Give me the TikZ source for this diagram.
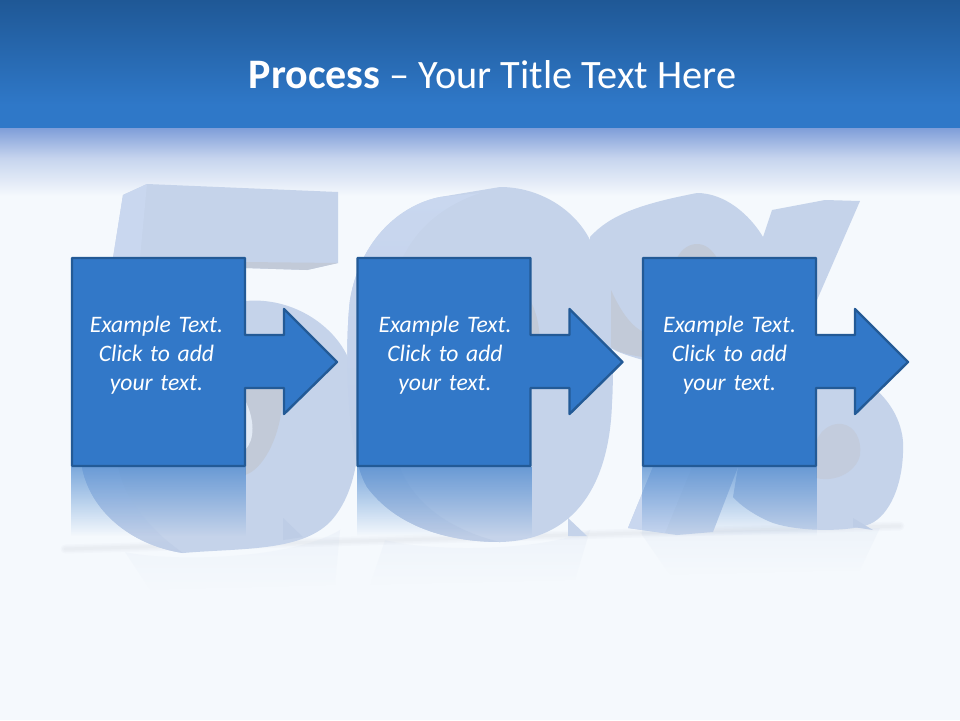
\documentclass[tikz,border=0pt]{standalone}
\usepackage{fontspec}
\setmainfont[WordSpace=1.45]{Carlito}
\newfontfamily\titlefont{Carlito}
\usetikzlibrary{fadings}
\definecolor{pagepale}{HTML}{F5F9FD}
\definecolor{bannertop}{HTML}{1F5896}
\definecolor{bannerlow}{HTML}{2F78C8}
\definecolor{bandtop}{HTML}{7F9ED9}
\definecolor{bandmid}{HTML}{C6D4EE}
\definecolor{boxblue}{HTML}{3278C8}
\definecolor{boxedge}{HTML}{235A96}
\definecolor{digitfront}{HTML}{C5D3EA}
\definecolor{digitside}{HTML}{C9D7EF}
\definecolor{digitlow}{HTML}{BECDE6}
\definecolor{digitgrey}{HTML}{C2CAD8}
\tikzset{
	digit/.style={fill=digitfront, draw=none},
	digitlight/.style={top color=digitside, bottom color=digitlow, draw=none},
	digitdark/.style={fill=digitgrey, draw=none},
	digitnotch/.style={fill=digitlow, draw=none},
	mirror/.style={fill=digitfront, fill opacity=0.14, path fading=south, draw=none},
	callout/.style={fill=boxblue, draw=boxedge, line width=2.4pt, line join=round},
	calltext/.style={text=white, align=center, font=\fontsize{23.6}{29.2}\selectfont\itshape, inner sep=0pt},
}
\begin{document}
\begin{tikzpicture}[x=1pt,y=-1pt]
	\useasboundingbox (0,0) rectangle (960,720);
	\fill[pagepale] (0,0) rectangle (960,720);

	\shade[top color=bannertop, bottom color=bannerlow] (0,0) rectangle (960,105);
	\fill[bannerlow] (0,105) rectangle (960,128);
	\shade[top color=bandtop, bottom color=bandmid] (0,128) rectangle (960,158);
	\shade[top color=bandmid, bottom color=pagepale] (0,158) rectangle (960,196);

	% ground
	\foreach \s/\o in {9/0.04,6/0.05,3/0.05} {
		\draw[line width=\s pt, line cap=round, draw=digitgrey!85!black, opacity=\o] (65,549) -- (360,541) -- (640,533) -- (900,526);
	}
	\fill[mirror] (125,552) .. controls (170,562) and (290,560) .. (340,530) -- (335,585) -- (150,590) -- cycle;
	\fill[mirror] (385,540) .. controls (430,552) and (540,552) .. (590,530) -- (575,580) -- (370,585) -- cycle;
	\fill[mirror] (640,532) -- (880,528) -- (860,570) -- (670,575) -- cycle;

	% five
	\fill[digit] (147,184) -- (338,192) -- (338,263) -- (307,270) -- (245,268) -- (245,470) -- (100,470) -- (113,258) -- (123,195) -- cycle;
	\fill[digitside] (123,195) -- (147,184) -- (140,258) -- (113,258) -- cycle;
	\fill[digitdark] (245,268) -- (307,270) -- (338,263) -- (245,262) -- cycle;
	\fill[digit] (245,301) .. controls (300,296) and (345,335) .. (352,370)
		.. controls (365,430) and (360,490) .. (330,522)
		.. controls (300,552) and (240,548) .. (183,553)
		.. controls (130,545) and (90,510) .. (82,467) -- (245,440) -- cycle;
	\shade[digitlight] (82,467) .. controls (90,510) and (130,545) .. (183,553)
		.. controls (150,530) and (125,500) .. (118,467) -- cycle;
	\fill[digitdark] (245,345) .. controls (272,350) and (285,375) .. (282,405)
		.. controls (279,440) and (262,470) .. (245,475) -- cycle;
	\fill[pagepale!60!digitfront] (245,400) .. controls (255,420) and (255,440) .. (245,450) -- cycle;
	\fill[digitnotch] (283,518) -- (303,537) -- (283,540) -- cycle;

	% zero
	\fill[digit] (500,187) .. controls (540,187) and (575,210) .. (590,240)
		.. controls (610,290) and (615,360) .. (612,403)
		.. controls (610,470) and (585,540) .. (500,542)
		.. controls (445,542) and (395,525) .. (367,487)
		.. controls (345,450) and (345,340) .. (350,300)
		.. controls (360,240) and (400,205) .. (440,197) -- cycle;
	\shade[digitlight] (440,197) .. controls (400,205) and (360,240) .. (350,300)
		.. controls (345,340) and (345,450) .. (367,487)
		.. controls (395,525) and (445,542) .. (500,542)
		.. controls (450,530) and (400,500) .. (393,440)
		-- (393,290) .. controls (400,245) and (430,210) .. (480,193) -- cycle;
	\fill[digitdark] (530,300) .. controls (538,315) and (540,330) .. (540,350) -- (530,350) -- cycle;
	\fill[digitfront] (568,518) -- (587,536) -- (568,536) -- cycle;

	% percent
	\fill[digit] (590,237) .. controls (610,215) and (640,204) .. (697,193)
		.. controls (725,193) and (750,215) .. (763,237)
		-- (772,210) -- (825,200) -- (860,201) -- (817,300) -- (700,400) -- (643,360)
		.. controls (625,355) and (612,350) .. (610,347)
		.. controls (595,320) and (590,280) .. (590,237) -- cycle;
	\fill[digitdark] (611,290) .. controls (620,310) and (630,325) .. (643,332) -- (643,357)
		.. controls (628,355) and (618,352) .. (611,347) -- cycle;
	\fill[digitdark] (677,258) .. controls (682,248) and (690,244) .. (697,244)
		.. controls (706,244) and (712,250) .. (717,258) -- cycle;
	\fill[digit] (816,387) -- (873,387) .. controls (895,405) and (905,430) .. (903,453)
		.. controls (902,485) and (890,515) .. (870,524)
		.. controls (850,532) and (800,532) .. (773,523)
		.. controls (755,516) and (740,505) .. (733,497) -- (738,467) -- (816,440) -- cycle;
	\fill[digitgrey!75!digitfront] (816,442) .. controls (822,426) and (835,423) .. (842,424)
		.. controls (855,426) and (862,440) .. (860,455)
		.. controls (857,470) and (838,483) .. (816,478) -- cycle;
	\fill[digit] (653,467) -- (738,467) -- (713,532) -- (677,535) -- (628,528) -- cycle;
	\fill[digitside] (653,467) -- (692,467) -- (665,533) -- (628,528) -- cycle;
	\fill[digitnotch] (853,518) -- (873,530) -- (853,527) -- cycle;

	\node[font=\titlefont\fontsize{40.3}{48}\selectfont, text=white, inner sep=0pt] (title) at (492.5,75) {{\fontsize{42}{48}\selectfont\textbf{Process}} – Your Title Text Here};

	\foreach \x/\t/\n in {72/156.5/first,357.5/445/second,643/729.5/third} {
		\fill[boxblue, fill opacity=0.62, path fading=south] (\x-1,467) rectangle (\x+174,536);
		\draw[callout] (\x,258) -- (\x+173,258) -- (\x+173,335) -- (\x+212,335) -- (\x+212,309) -- (\x+265,362) -- (\x+212,414) -- (\x+212,388) -- (\x+173,388) -- (\x+173,466) -- (\x,466) -- cycle;
		\node[calltext] (text\n) at (\t,355) {Example Text.\\Click to add\\your text.};
	}
\end{tikzpicture}
\end{document}
